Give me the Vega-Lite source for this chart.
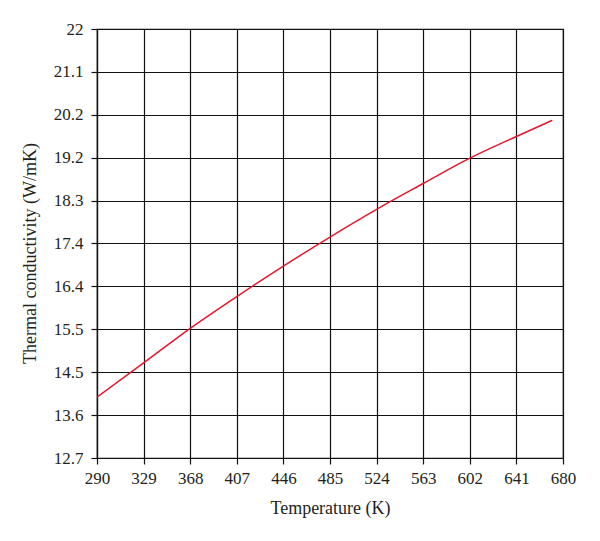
{
  "$schema": "https://vega.github.io/schema/vega-lite/v6.json",
  "width": 466,
  "height": 429,
  "autosize": {"type": "none"},
  "padding": {"left": 97, "top": 29, "right": 37, "bottom": 83},
  "background": "white",
  "config": {
    "view": {"stroke": "#111", "strokeWidth": 1.2},
    "axis": {
      "labelFont": "Liberation Serif",
      "titleFont": "Liberation Serif",
      "labelFontSize": 17,
      "titleFontSize": 18,
      "titleFontWeight": "normal",
      "labelColor": "#231f20",
      "titleColor": "#231f20",
      "domainColor": "#111",
      "tickColor": "#111",
      "gridColor": "#111",
      "gridOpacity": 1,
      "gridWidth": 1.2,
      "domainWidth": 1.2,
      "tickWidth": 1.2,
      "tickSize": 6
    }
  },
  "data": {
    "values": [
      {"T": 290, "k": 14.02},
      {"T": 329, "k": 14.76},
      {"T": 368, "k": 15.51},
      {"T": 407, "k": 16.2},
      {"T": 446, "k": 16.86},
      {"T": 485, "k": 17.49},
      {"T": 524, "k": 18.09},
      {"T": 563, "k": 18.65},
      {"T": 602, "k": 19.2},
      {"T": 641, "k": 19.67},
      {"T": 671, "k": 20.02}
    ]
  },
  "mark": {"type": "line", "color": "#e3172d", "strokeWidth": 1.5, "interpolate": "monotone", "clip": true},
  "encoding": {
    "x": {
      "field": "T",
      "type": "quantitative",
      "scale": {"domain": [290, 680], "nice": false, "zero": false},
      "axis": {
        "title": "Temperature (K)",
        "values": [290, 329, 368, 407, 446, 485, 524, 563, 602, 641, 680],
        "labelPadding": 6,
        "titlePadding": 13,
        "labelFlush": false,
        "labelOverlap": false
      }
    },
    "y": {
      "field": "k",
      "type": "quantitative",
      "scale": {"domain": [12.7, 22], "nice": false, "zero": false},
      "axis": {
        "title": "Thermal conductivity (W/mK)",
        "values": [12.7, 13.63, 14.56, 15.49, 16.42, 17.35, 18.28, 19.21, 20.14, 21.07, 22],
        "labelExpr": "['12.7','13.6','14.5','15.5','16.4','17.4','18.3','19.2','20.2','21.1','22'][round((datum.value-12.7)/0.93)]",
        "labelPadding": 8,
        "titlePadding": 14,
        "titleY": 224,
        "labelFlush": false,
        "labelOverlap": false
      }
    }
  }
}
